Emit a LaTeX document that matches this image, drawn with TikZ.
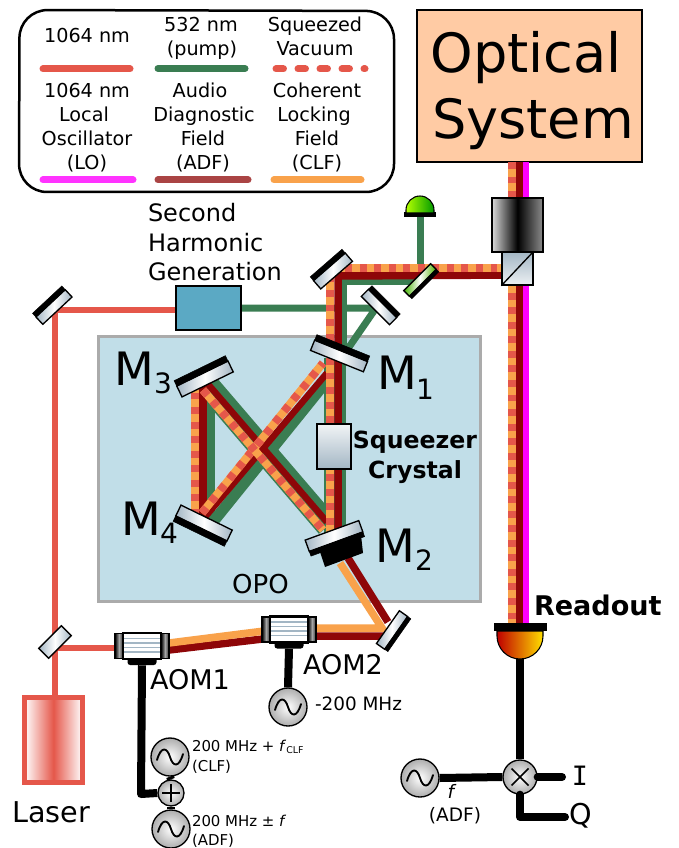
\documentclass[tikz,border=0pt]{standalone}
\usepackage{fontspec}
\setmainfont{DejaVu Sans}
\newfontfamily\monof{DejaVu Sans Mono}
\usetikzlibrary{calc}
\definecolor{lasr}{HTML}{E5574A}
\definecolor{pumpg}{HTML}{3A7D52}
\definecolor{adfr}{HTML}{8E0608}
\definecolor{adfl}{HTML}{AA4444}
\definecolor{clfo}{HTML}{F9A24B}
\definecolor{lomag}{HTML}{FF00FF}
\definecolor{lomagl}{HTML}{FF33FF}
\definecolor{opob}{HTML}{C1DEE8}
\definecolor{shgb}{HTML}{5BA9C4}
\definecolor{peach}{HTML}{FFCBA4}
\definecolor{mgray}{HTML}{A3B6C4}
\def\pxu{0.75pt}
\newcommand\fsz[1]{\fontsize{#1}{#1}\selectfont}
\tikzset{
  x=0.75pt,y=-0.75pt,
  lbl/.style={inner sep=0pt,outer sep=0pt,anchor=base},
  lblw/.style={inner sep=0pt,outer sep=0pt,anchor=base west},
  legt/.style={lbl,font=\fsz{14.4}},
  lasb/.style={draw=lasr,line width=6.5*\pxu},
  pumpb/.style={draw=pumpg,line width=7*\pxu},
  adfb/.style={draw=adfr,line width=7.5*\pxu},
  clfb/.style={draw=clfo,line width=7.5*\pxu},
  lob/.style={draw=lomag,line width=5.5*\pxu},
  sqb/.style={draw=clfo,line width=8*\pxu,postaction={draw=lasr,dash pattern=on 5.2pt off 5.7pt}},
  legline/.style={line width=7*\pxu,line cap=round},
  wire/.style={draw=black,line width=8*\pxu},
  mface/.style={draw=black,line width=1pt,inner sep=0pt,outer sep=0pt,left color=mgray,right color=mgray,middle color=white},
  dface/.style={draw=black,line width=1pt,inner sep=0pt,outer sep=0pt,left color=green!50!lime!70!black,right color=green!40!lime!70!black,middle color=white},
  mbar/.style={fill=black,draw=black,inner sep=0pt,outer sep=0pt,anchor=south},
  oscn/.style={circle,draw=black,line width=1pt,inner sep=0pt,minimum size=38*\pxu,inner color=white,outer color=black!32},
  mixn/.style={circle,draw=black,line width=1pt,inner sep=0pt,inner color=white,outer color=black!32},
  aombody/.style={draw=black,line width=1pt,inner sep=0pt,minimum width=38*\pxu,minimum height=25*\pxu,fill=white},
  aomcap/.style={draw=black,line width=.8pt,inner sep=0pt,minimum width=8*\pxu,minimum height=25*\pxu,left color=black,right color=black!80,middle color=black!35},
  aomhold/.style={fill=black,rounded corners=2pt,inner sep=0pt,minimum width=29*\pxu,minimum height=8*\pxu}
}
% name, x, y, rotation, length, face height, bar height, face style
\newcommand\mirrornode[8]{%
  \node[#8,rotate=#4,minimum width=#5*\pxu,minimum height=#6*\pxu] (#1) at (#2,#3) {};
  \node[mbar,rotate=#4,minimum width=#5*\pxu,minimum height=#7*\pxu] (#1bar) at (#1.north) {};
}
\newcommand\oscnode[3]{%
  \node[oscn] (#1) at (#2,#3) {};
  \draw[line width=1.4pt,line cap=round] ($(#1)+(-13,3)$) .. controls ($(#1)+(-9,-11)$) and ($(#1)+(-3,-10)$) .. ($(#1)+(0,0)$) .. controls ($(#1)+(3,10)$) and ($(#1)+(9,11)$) .. ($(#1)+(13,-3)$);
}
\newcommand\aomnode[3]{%
  \node[aomhold] (#1hold) at (#2,#3+15) {};
  \node[aombody] (#1) at (#2,#3) {};
  \foreach \yy in {-7.5,-3,1.5,6} {\draw[mgray,line width=.9pt] ($(#1.center)+(-19,\yy)$) -- ($(#1.center)+(19,\yy)$);}
  \draw[black,line width=1.6pt] (#1.north west) -- (#1.north east);
  \draw[black,line width=1.6pt] (#1.south west) -- (#1.south east);
  \node[aomcap] (#1l) at (#2-23,#3) {};
  \node[aomcap] (#1r) at (#2+23,#3) {};
}
\begin{document}
\begin{tikzpicture}
\useasboundingbox (0,0) rectangle (678,848);
\fill[white] (0,0) rectangle (678,848);

% Legend
\draw[line width=2.5*\pxu,rounded corners=21pt] (19.5,10) -- (394,11) -- (394,192) -- (19,192) -- cycle;
\node[legt] (l1) at (87,43) {1064 nm};
\node[legt] (l2a) at (201,32) {532 nm};
\node[legt] (l2b) at (202,56) {(pump)};
\node[legt] (l3a) at (315,32) {Squeezed};
\node[legt] (l3b) at (315,56) {Vacuum};
\node[legt] (l4a) at (87,98) {1064 nm};
\node[legt] (l4b) at (84,122) {Local};
\node[legt] (l4c) at (87,146) {Oscillator};
\node[legt] (l4d) at (87,170) {(LO)};
\node[legt] (l5a) at (200,98) {Audio};
\node[legt] (l5b) at (204,122) {Diagnostic};
\node[legt] (l5c) at (203,146) {Field};
\node[legt] (l5d) at (203,170) {(ADF)};
\node[legt] (l6a) at (317,98) {Coherent};
\node[legt] (l6b) at (314,122) {Locking};
\node[legt] (l6c) at (317,146) {Field};
\node[legt] (l6d) at (317,170) {(CLF)};
\draw[legline,lasr] (43,69) -- (130,69);
\draw[legline,pumpg] (158,68.5) -- (245,68.5);
\draw[legline,lasr,dash pattern=on 5.6pt off 10.9pt] (276,69) -- (365,69);
\draw[legline,lomagl] (43,180) -- (133,180);
\draw[legline,adfl] (158,180) -- (248,180);
\draw[legline,clfo] (274,180) -- (361,180);

% Optical system
\node[draw=black,line width=1.5pt,fill=peach,inner sep=0pt,minimum width=225*\pxu,minimum height=152*\pxu] (os) at (529.5,86) {};
\node[lbl,font=\fsz{40.6}] (ost1) at (526,73) {Optical};
\node[lbl,font=\fsz{40.6}] (ost2) at (533,139) {System};

% OPO
\node[draw=black!33,line width=3*\pxu,fill=opob,inner sep=0pt,minimum width=382*\pxu,minimum height=265*\pxu] (opo) at (289.5,469) {};
\node[lbl,font=\fsz{19.5}] (opot) at (260.5,593) {OPO};

% Beam coordinates
\coordinate (str) at (338,276);
\coordinate (stg) at (343.5,281.5);

% Pump beams
\draw[pumpb] (420,215) -- (420,281.5) -- (stg) -- (343.5,350);
\draw[pumpb] (241,308) -- (376,308) -- (347,350);
\draw[draw=pumpg,line width=22*\pxu] (335,358) -- (335,535);
\draw[draw=pumpg,line width=8*\pxu] (211,378) -- (211,525);
\draw[draw=pumpg,line width=24*\pxu] (208,386) -- (328,526);
\draw[draw=pumpg,line width=11*\pxu] (213,522) -- (334,372);

% ADF beams (dark red)
\draw[adfb] (520,162) -- (520,623);
\draw[adfb] (515,275) -- (str) -- (338,540);
\draw[adfb] (203,378) -- (203,525);
\draw[adfb,line width=6.5*\pxu] (207,383) -- (327,522);
\draw[adfb,line width=6.5*\pxu] (205,517) -- (327,373);
\draw[adfb] (348,558) -- (388,622);
\draw[adfb] (388,636) -- (288,636) -- (169,650);

% CLF beam
\draw[clfb] (340,563) -- (382,628) -- (288,628) -- (169,643);

% LO
\draw[lob] (526,162) -- (526,623);

% Squeezed vacuum
\draw[sqb] (512,162) -- (512,623);
\draw[sqb] (512,268.5) -- (330,268.5) -- (330,350);
\draw[sqb] (330,358) -- (330,535);
\draw[sqb] (195,378) -- (195,520);
\draw[sqb] (202,513) -- (323,363);
\draw[sqb] (203,390) -- (323,530);

% Laser beam
\draw[lasb] (55,697) -- (55,310) -- (176,310);
\draw[lasb] (55,648) -- (115,648);

% Second harmonic generation
\node[draw=black,line width=1.5pt,fill=shgb,inner sep=0pt,minimum width=65*\pxu,minimum height=44*\pxu] (shg) at (208.5,308) {};
\node[lblw,font=\fsz{18}] (shgt1) at (148,222) {Second};
\node[lblw,font=\fsz{18}] (shgt2) at (148,252) {Harmonic};
\node[lblw,font=\fsz{18}] (shgt3) at (148,281) {Generation};

% Green photodiode
\node[fill=black,inner sep=0pt,minimum width=32*\pxu,minimum height=5*\pxu] (gpd) at (420,215) {};
\draw[draw=black,line width=.8pt,left color=yellow!70!green,right color=green!60!black] (406,213) -- (406,210) arc[start angle=180,end angle=0,radius=10.5pt] -- (434,213) -- cycle;

% Mirrors
\mirrornode{mtl}{54}{307}{43}{40}{10}{5}{mface}
\mirrornode{st1}{333}{271}{41}{42}{11}{5}{mface}
\mirrornode{st2}{379}{307}{-45}{40}{10}{5}{mface}
\mirrornode{dich}{420}{280}{225}{38}{8}{3.5}{dface}
\mirrornode{m1}{339}{356}{-22}{57}{11}{6}{mface}
\mirrornode{m2}{334}{536}{200}{57}{12}{5}{mface}
\mirrornode{m3}{205}{379}{26}{57}{12}{6}{mface}
\mirrornode{m4}{204}{523}{154}{57}{12}{6}{mface}
\mirrornode{mlr}{392}{630}{235}{40}{10}{4}{mface}
\node[mface,rotate=45,minimum width=32*\pxu,minimum height=14*\pxu] (bslas) at (55,642) {};
\fill[black] (319,549) -- (361,535) -- (363,553) -- (325,567) -- cycle;

% Mirror labels
\node[lblw,font=\fsz{34.5}] (m3t) at (114,385) {M};
\node[lblw,font=\fsz{21}] (m3s) at (154,393) {3};
\node[lblw,font=\fsz{34.5}] (m1t) at (377,389) {M};
\node[lblw,font=\fsz{21}] (m1s) at (416,399) {1};
\node[lblw,font=\fsz{34.5}] (m2t) at (375,562) {M};
\node[lblw,font=\fsz{21}] (m2s) at (415,570) {2};
\node[lblw,font=\fsz{34.5}] (m4t) at (121,535) {M};
\node[lblw,font=\fsz{21}] (m4s) at (160,543) {4};

% Crystal
\node[draw=black,line width=1pt,inner sep=0pt,minimum width=34*\pxu,minimum height=45*\pxu,shading=axis,shading angle=135,top color=white!85!mgray,bottom color=mgray] (xtal) at (334,446.5) {};
\node[lbl,font=\fsz{17.7}\bfseries] (xt1) at (415,448) {Squeezer};
\node[lbl,font=\fsz{17.7}\bfseries] (xt2) at (415,478) {Crystal};

% Isolator and beam splitter
\node[draw=black,line width=1pt,inner sep=0pt,minimum width=51*\pxu,minimum height=54*\pxu,left color=black!15,right color=black!45,middle color=black] (iso) at (517.5,225) {};
\node[draw=black,line width=1pt,inner sep=0pt,minimum width=31*\pxu,minimum height=33*\pxu,top color=mgray,bottom color=white!80!mgray] (cube) at (517.5,268.5) {};
\draw[line width=1pt] (cube.south west) -- (cube.north east);

% Readout
\node[fill=black,inner sep=0pt,minimum width=53*\pxu,minimum height=8*\pxu] (rbar) at (520,627) {};
\draw[draw=black,line width=.8pt,left color=red!75!black,right color=yellow!75!orange] (497,631) -- (497,636) arc[start angle=180,end angle=360,radius=17.25pt] -- (543,631) -- cycle;
\coordinate (rdome) at (520,659);
\node[lblw,font=\fsz{20.3}\bfseries] (rt) at (534,615) {Readout};

% Laser
\node[draw=lasr,line width=5*\pxu,inner sep=0pt,minimum width=58*\pxu,minimum height=85*\pxu,left color=white,right color=white,middle color=lasr] (laser) at (53.5,740) {};
\node[lbl,font=\fsz{21.5}] (lt) at (51,822) {Laser};

% AOMs
\aomnode{aoma}{142}{646}
\aomnode{aomb}{289}{629.5}
\node[lblw,font=\fsz{20.3}] (at1) at (150,689) {AOM1};
\node[lblw,font=\fsz{20.3}] (at2) at (303,674) {AOM2};

% Oscillators and RF chain
\oscnode{o2}{288}{707}
\oscnode{oc}{170}{757}
\oscnode{oa}{171}{829}
\oscnode{of}{420}{778}
\node[mixn,minimum size=26*\pxu] (plus) at (171,793) {};
\draw[line width=1.1pt] ($(plus)+(0,-9)$) -- ($(plus)+(0,9)$) ($(plus)+(-9,0)$) -- ($(plus)+(9,0)$);
\node[mixn,minimum size=34*\pxu] (mix) at (520,777) {};
\draw[line width=1.1pt] ($(mix)+(-8.5,-8.5)$) -- ($(mix)+(8.5,8.5)$) ($(mix)+(-8.5,8.5)$) -- ($(mix)+(8.5,-8.5)$);
\coordinate (iend) at (562,777);
\coordinate (qend) at (565,817);
\draw[wire] (aomb.south |- aombhold.south) -- (o2.north);
\draw[wire,line join=round] (aoma.south |- aomahold.south) -- (141,794) -- (plus.west);
\draw[wire] (oc.south) -- (plus.north);
\draw[wire] (oa.north) -- (plus.south);
\draw[wire] (rdome) -- (mix.north);
\draw[wire] (of.east) -- (mix.west);
\draw[wire,line cap=round] (mix.east) -- (iend);
\draw[wire,line cap=round,line join=round] (mix.south) -- (520,817) -- (qend);
\node[lbl,font=\fsz{20}\monof] (it) at (580,785) {I};
\node[lblw,font=\fsz{21.5}] (qt) at (569,824) {Q};

% RF labels
\node[lblw,font=\fsz{13.8}] (t2) at (315,710) {-200 MHz};
\node[lblw,font=\fsz{11.2}] (tc1) at (192,751) {200 MHz + \textit{f}\raisebox{-1.5pt}{\fsz{7}CLF}};
\node[lblw,font=\fsz{11.2}] (tc2) at (192,771) {(CLF)};
\node[lblw,font=\fsz{11.2}] (ta1) at (192,826) {200 MHz ± \textit{f}};
\node[lblw,font=\fsz{11.2}] (ta2) at (192,845) {(ADF)};
\node[lbl,font=\fsz{13.9}] (tf1) at (452,798) {\textit{f}};
\node[lbl,font=\fsz{13.9}] (tf2) at (455,821) {(ADF)};
\end{tikzpicture}
\end{document}
